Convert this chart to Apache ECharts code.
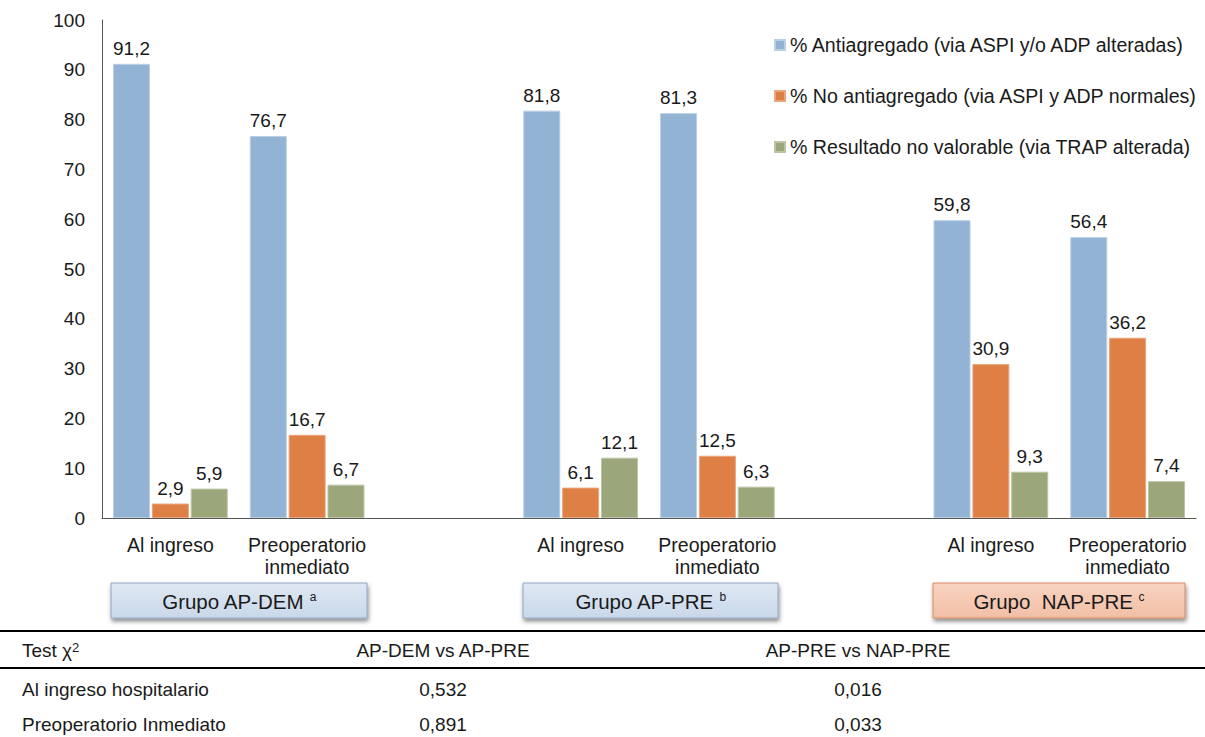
<!DOCTYPE html>
<html>
<head>
<meta charset="utf-8">
<script src="https://cdn.jsdelivr.net/npm/echarts@6/dist/echarts.min.js"></script>
<style>
  html, body { margin: 0; padding: 0; background: #fff; }
  #chart { width: 1205px; height: 737px; }
</style>
</head>
<body>
<div id="chart"></div>
<script>
// Categories: two moments per group, with an empty slot between groups
const categories = ['Al ingreso', 'Preoperatorio\ninmediato', '', 'Al ingreso', 'Preoperatorio\ninmediato', '', 'Al ingreso', 'Preoperatorio\ninmediato'];

// Series values (%), '-' marks the spacer slots
const antiagregado   = [91.2, 76.7, '-', 81.8, 81.3, '-', 59.8, 56.4];
const noAntiagregado = [2.9, 16.7, '-', 6.1, 12.5, '-', 30.9, 36.2];
const noValorable    = [5.9, 6.7, '-', 12.1, 6.3, '-', 9.3, 7.4];

const seriesNames = [
  '% Antiagregado (via ASPI y/o ADP alteradas)',
  '% No antiagregado (via ASPI y ADP normales)',
  '% Resultado no valorable (via TRAP alterada)'
];

// Group captions under the axis
const groups = [
  { name: 'Grupo AP-DEM', sup: 'a' },
  { name: 'Grupo AP-PRE', sup: 'b' },
  { name: 'Grupo  NAP-PRE', sup: 'c' }
];

// Chi-square table
const tableHeader = ['Test χ', 'AP-DEM vs AP-PRE', 'AP-PRE vs NAP-PRE'];
const tableRows = [
  ['Al ingreso hospitalario', '0,532', '0,016'],
  ['Preoperatorio Inmediato', '0,891', '0,033']
];

const FONT = '"Liberation Sans", Arial, sans-serif';
const TXT = '#1a1a1a';
const colors = ['#93B3D4', '#DE7F45', '#9BA77B'];
const borders = ['#B9CFE4', '#EBA57C', '#BCC4A4'];

const fmt = p => String(p.value).replace('.', ',');

function barSeries(i, data) {
  return {
    name: seriesNames[i],
    type: 'bar',
    data: data,
    barWidth: 37,
    barGap: '5%',
    itemStyle: { color: colors[i], borderColor: borders[i], borderWidth: 1 },
    label: {
      show: true, position: 'top', distance: 6,
      formatter: fmt, color: TXT, fontSize: 19, fontFamily: FONT
    }
  };
}

const chart = echarts.init(document.getElementById('chart'), null, { renderer: 'svg' });

const boxStyles = [
  { fill: ['#DFE8F3', '#C9D8EA'], stroke: '#8FA6C2' },
  { fill: ['#DFE8F3', '#C9D8EA'], stroke: '#8FA6C2' },
  { fill: ['#F8D3C0', '#F2BFA6'], stroke: '#D58B63' }
];
const boxSpans = [[111, 367], [523, 778], [933, 1185]];

const graphics = [];
groups.forEach((g, i) => {
  const [x0, x1] = boxSpans[i];
  graphics.push({
    type: 'rect',
    shape: { x: x0, y: 583, width: x1 - x0, height: 35 },
    style: {
      fill: new echarts.graphic.LinearGradient(0, 0, 0, 1, [
        { offset: 0, color: boxStyles[i].fill[0] },
        { offset: 1, color: boxStyles[i].fill[1] }
      ]),
      stroke: boxStyles[i].stroke, lineWidth: 1,
      shadowBlur: 4, shadowOffsetX: 1, shadowOffsetY: 3, shadowColor: 'rgba(0,0,0,0.45)'
    }
  });
  graphics.push({
    type: 'text',
    x: (x0 + x1) / 2, y: 601,
    style: {
      text: '{m|' + g.name + ' }{s|' + g.sup + '}',
      align: 'center', verticalAlign: 'middle',
      rich: {
        m: { fontSize: 20.5, fontFamily: FONT, fill: TXT, color: TXT },
        s: { fontSize: 12, fontFamily: FONT, fill: TXT, color: TXT, verticalAlign: 'top', padding: [0, 0, 7, 0] }
      }
    }
  });
});

// Table rules
[631, 668].forEach(y => graphics.push({
  type: 'line',
  shape: { x1: 0, y1: y, x2: 1205, y2: y },
  style: { stroke: '#000', lineWidth: 2 }
}));

const colX = [22, 443, 858];
const rowY = [650, 689, 724];
const cellStyle = { fontSize: 19, fontFamily: FONT, fill: TXT };

graphics.push({
  type: 'text', x: colX[0], y: rowY[0],
  style: {
    text: '{m|' + tableHeader[0] + '}{s|2}', align: 'left', verticalAlign: 'middle',
    rich: {
      m: { fontSize: 19, fontFamily: FONT, fill: TXT, color: TXT },
      s: { fontSize: 13, fontFamily: FONT, fill: TXT, color: TXT, verticalAlign: 'top', padding: [0, 0, 6, 0] }
    }
  }
});
for (let c = 1; c < 3; c++) {
  graphics.push({ type: 'text', x: colX[c], y: rowY[0],
    style: Object.assign({ text: tableHeader[c], align: 'center', verticalAlign: 'middle' }, cellStyle) });
}
tableRows.forEach((row, r) => {
  row.forEach((cell, c) => {
    graphics.push({ type: 'text', x: colX[c], y: rowY[r + 1],
      style: Object.assign({ text: cell, align: c === 0 ? 'left' : 'center', verticalAlign: 'middle' }, cellStyle) });
  });
});

chart.setOption({
  animation: false,
  backgroundColor: '#fff',
  textStyle: { fontFamily: FONT },
  grid: { left: 102, right: 9, top: 20, bottom: 219, containLabel: false },
  legend: {
    orient: 'vertical', left: 774, top: 35, padding: 0,
    itemWidth: 10, itemHeight: 10, itemGap: 31,
    icon: 'rect',
    textStyle: { fontSize: 19.6, color: TXT, fontFamily: FONT },
    data: seriesNames
  },
  xAxis: {
    type: 'category',
    data: categories,
    axisLine: { lineStyle: { color: '#555', width: 1 } },
    axisTick: { show: false },
    axisLabel: { color: TXT, fontSize: 19.5, fontFamily: FONT, lineHeight: 22, margin: 16, interval: 0 }
  },
  yAxis: {
    type: 'value', min: 0, max: 100, interval: 10,
    axisLine: { show: true, lineStyle: { color: '#555', width: 1 } },
    axisTick: { show: false },
    splitLine: { show: false },
    axisLabel: { color: TXT, fontSize: 19, fontFamily: FONT, margin: 17 }
  },
  series: [
    barSeries(0, antiagregado),
    barSeries(1, noAntiagregado),
    barSeries(2, noValorable)
  ],
  graphic: graphics
});
</script>
</body>
</html>
